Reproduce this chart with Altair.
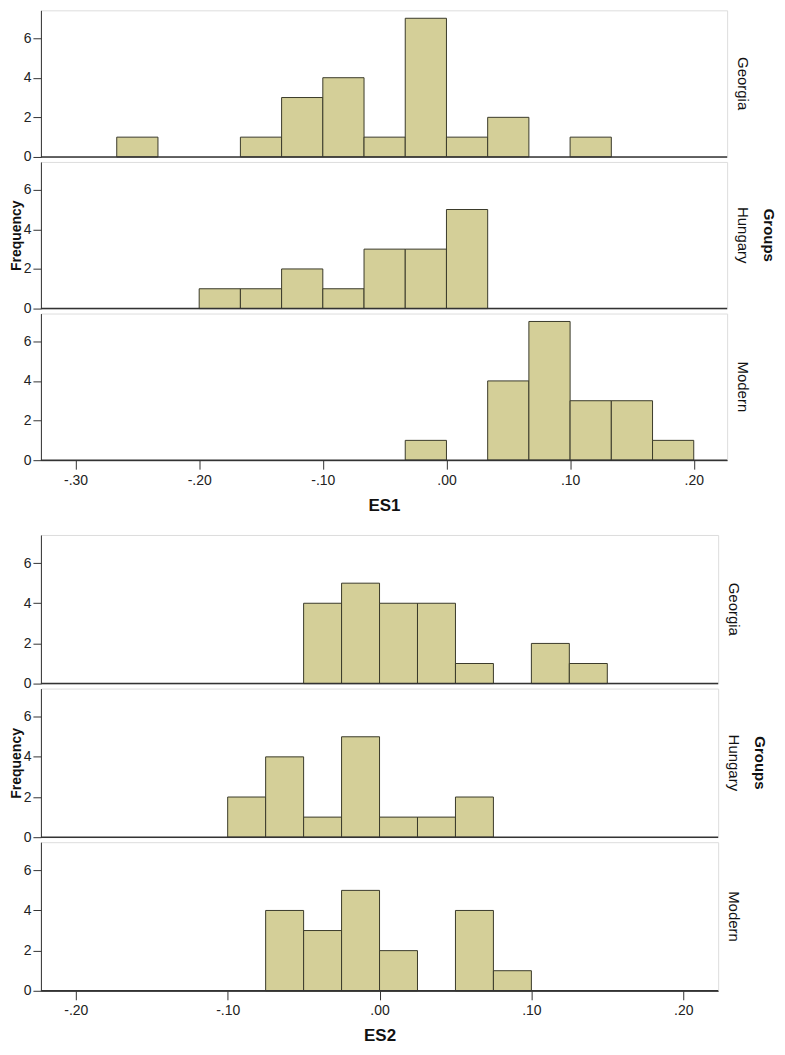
import altair as alt
import pandas as pd

groups = ["Georgia", "Hungary", "Modern"]

# ES1 histogram: bins of width 1/30, lower edges from -8/30 to 5/30
es1_bin_width = 1 / 30
es1_bin_start = [k / 30 for k in range(-8, 6)]
es1_counts = {
    "Georgia": [1, 0, 0, 1, 3, 4, 1, 7, 1, 2, 0, 1, 0, 0],
    "Hungary": [0, 0, 1, 1, 2, 1, 3, 3, 5, 0, 0, 0, 0, 0],
    "Modern":  [0, 0, 0, 0, 0, 0, 0, 1, 0, 4, 7, 3, 3, 1],
}
es1_ticks = [-0.3, -0.2, -0.1, 0.0, 0.1, 0.2]
es1_domain = [-0.328, 0.227]

# ES2 histogram: bins of width 0.025, lower edges from -0.10 to 0.125
es2_bin_width = 0.025
es2_bin_start = [k * 0.025 for k in range(-4, 6)]
es2_counts = {
    "Georgia": [0, 0, 4, 5, 4, 4, 1, 0, 2, 1],
    "Hungary": [2, 4, 1, 5, 1, 1, 2, 0, 0, 0],
    "Modern":  [0, 4, 3, 5, 2, 0, 4, 1, 0, 0],
}
es2_ticks = [-0.2, -0.1, 0.0, 0.1, 0.2]
es2_domain = [-0.223, 0.223]

y_ticks = [0, 2, 4, 6]
y_domain = [0, 7.4]
y_title = "Frequency"
group_title = "Groups"

BAR_FILL = "#d4cf98"
BAR_STROKE = "#3a3a2a"
NARROW = "Liberation Sans Narrow, Liberation Sans, Arial"
SANS = "Liberation Sans, Arial"

label_expr = ("(datum.value < -0.0001 ? '-' : '') + "
              "replace(format(abs(datum.value), '.2f'), '0.', '.')")


def make_panel(bin_start, width, counts, group, ticks, domain, xtitle,
               w, h, show_x, show_ytitle, show_group_title):
    rows = []
    for s, c in zip(bin_start, counts):
        if c > 0:
            rows.append({"lo": s, "hi": s + width, "count": c})
    df = pd.DataFrame(rows)

    if show_x:
        xaxis = alt.Axis(
            values=ticks, labelExpr=label_expr, title=xtitle,
            titleFont=NARROW, titleFontSize=17, titleFontWeight="bold",
            titleColor="#111", titlePadding=10,
            labelFont=NARROW, labelFontSize=14, labelColor="#222",
            labelPadding=4, tickSize=9, tickColor="#333",
            domainColor="#333", grid=False,
        )
    else:
        xaxis = None

    yaxis = alt.Axis(
        values=y_ticks, title=y_title,
        titleFont=SANS, titleFontSize=14, titleFontWeight="bold",
        titleColor="#111", titlePadding=0,
        titleOpacity=1 if show_ytitle else 0,
        labelFont=NARROW, labelFontSize=14, labelColor="#222",
        labelPadding=2, tickSize=8, tickColor="#333",
        domainColor="#333", grid=False,
    )

    bars = alt.Chart(df).mark_bar(
        fill=BAR_FILL, stroke=BAR_STROKE, strokeWidth=1, opacity=1
    ).encode(
        x=alt.X("lo:Q", scale=alt.Scale(domain=domain, nice=False, zero=False),
                axis=xaxis),
        x2="hi:Q",
        y=alt.Y("count:Q", scale=alt.Scale(domain=y_domain, nice=False),
                axis=yaxis),
        y2=alt.datum(0),
    )

    lab_df = pd.DataFrame({"label": [group]})
    baseline = alt.Chart(lab_df).mark_rule(color="#333", strokeWidth=1.5).encode(
        y=alt.datum(0)
    )
    row_label = alt.Chart(lab_df).mark_text(
        angle=90, font=SANS, fontSize=15, color="#111",
        align="center", baseline="middle",
    ).encode(text="label:N", x=alt.value(w + 16), y=alt.value(h / 2))

    layers = [bars, baseline, row_label]
    if show_group_title:
        gt_df = pd.DataFrame({"label": [group_title]})
        layers.append(
            alt.Chart(gt_df).mark_text(
                angle=90, font=SANS, fontSize=15, fontWeight="bold",
                color="#111", align="center", baseline="middle",
            ).encode(text="label:N", x=alt.value(w + 42), y=alt.value(h / 2))
        )
    return alt.layer(*layers).properties(width=w, height=h)


def make_hist(bin_start, width, counts, ticks, domain, xtitle, w, h, spacing):
    panels = []
    for i, g in enumerate(groups):
        panels.append(make_panel(
            bin_start, width, counts[g], g, ticks, domain, xtitle, w, h,
            show_x=(i == len(groups) - 1),
            show_ytitle=(i == 1),
            show_group_title=(i == 1),
        ))
    return alt.vconcat(*panels, spacing=spacing, bounds="flush")


top = make_hist(es1_bin_start, es1_bin_width, es1_counts, es1_ticks,
                es1_domain, "ES1", 688, 147, 5)
bottom = make_hist(es2_bin_start, es2_bin_width, es2_counts, es2_ticks,
                   es2_domain, "ES2", 679, 149, 5)

chart = alt.vconcat(top, bottom, spacing=20, padding=0).configure_view(
    fill="#f0f0f0", stroke="#6a6a6a", strokeWidth=1
).configure(background="white")

chart.save("out.html", embed_options={"renderer": "svg", "actions": False})
